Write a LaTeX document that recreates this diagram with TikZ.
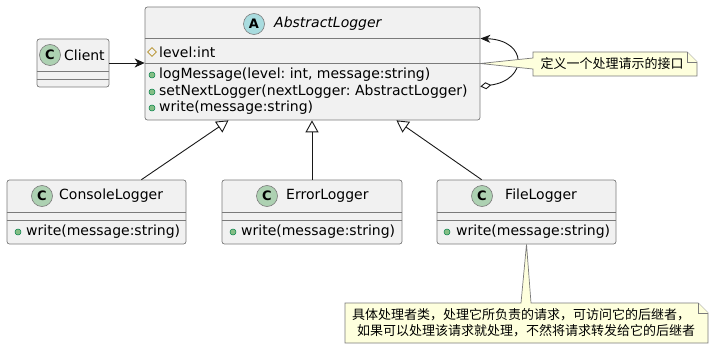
\documentclass[tikz,border=0pt]{standalone}
\usepackage{fontspec}
\setmainfont{DejaVu Sans}
\newfontfamily\cjk{Noto Sans CJK SC}
\usetikzlibrary{arrows.meta,positioning,shapes.geometric,calc}
\frenchspacing

\definecolor{classbg}{HTML}{F1F1F1}
\definecolor{classline}{HTML}{181818}
\definecolor{boxline}{HTML}{7A7A7A}
\definecolor{cgreen}{HTML}{ADD1B2}
\definecolor{acyan}{HTML}{A9DCDF}
\definecolor{notebg}{HTML}{FEFFDD}
\definecolor{pubfill}{HTML}{84BE84}
\definecolor{publine}{HTML}{038048}
\definecolor{protline}{HTML}{B38D22}

\begin{document}
\begin{tikzpicture}[x=1pt, y=-1pt, >=Stealth,
    classbox/.style={draw=boxline, fill=classbg, rounded corners=2.5pt, line width=0.7pt, inner sep=0pt},
    badge/.style={circle, draw=boxline, line width=0.6pt, minimum size=21pt, inner sep=0pt, font=\bfseries\fontsize{13}{13}\selectfont},
    member/.style={anchor=west, inner sep=0pt, font=\fontsize{14}{16}\selectfont},
    pub/.style={circle, draw=publine, fill=pubfill, minimum size=6pt, inner sep=0pt, line width=0.5pt},
    prot/.style={diamond, draw=protline, minimum size=9pt, inner sep=0pt, line width=0.7pt},
    sep/.style={draw=boxline, line width=0.7pt},
    link/.style={classline, line width=0.9pt},
    inherit/.style={-{Triangle[open, length=12pt, width=13pt]}, link},
    notebox/.style={draw=boxline, fill=notebg, line width=0.7pt},
    notetext/.style={font=\cjk\fontsize{13}{16}\selectfont, inner sep=0pt, align=left}]
    \useasboundingbox (0,0) rectangle (714,350);

    % 类框
    \node[classbox, minimum width=72pt, minimum height=48pt] (client) at (73,63) {};
    \node[classbox, minimum width=335pt, minimum height=113pt] (abs) at (312.5,63.5) {};
    \node[classbox, minimum width=179pt, minimum height=64pt] (console) at (96.5,212) {};
    \node[classbox, minimum width=180pt, minimum height=64pt] (error) at (312,212) {};
    \node[classbox, minimum width=179pt, minimum height=64pt] (file) at (526.5,212) {};

    % 分隔线
    \draw[sep] (client.west |- 0,71) -- (client.east |- 0,71);
    \draw[sep] (client.west |- 0,79) -- (client.east |- 0,79);
    \draw[sep] (abs.west |- 0,38) -- (abs.east |- 0,38);
    \draw[sep] (abs.west |- 0,63) -- (abs.east |- 0,63);
    \foreach \c in {console, error, file} {
        \draw[sep] (\c.west |- 0,212) -- (\c.east |- 0,212);
        \draw[sep] (\c.west |- 0,220) -- (\c.east |- 0,220);
    }

    % Client
    \node[badge, fill=cgreen] (clientC) at (50,55) {C};
    \node[member] (clientname) at (64,55) {Client};

    % AbstractLogger
    \node[badge, fill=acyan] (absA) at (254,24) {A};
    \node[member] (absname) at (274,24) {\itshape AbstractLogger};
    \node[prot] (levelicon) at (152,52) {};
    \node[member] (level) at (159,52) {level:int};
    \node[pub] (logicon) at (152,75) {};
    \node[member] (logmsg) at (159,75) {logMessage(level: int, message:string)};
    \node[pub] (nexticon) at (152,92) {};
    \node[member] (setnext) at (159,92) {setNextLogger(nextLogger: AbstractLogger)};
    \node[pub] (writeicon) at (152,108) {};
    \node[member] (abswrite) at (159,108) {write(message:string)};

    % 具体处理者
    \node[badge, fill=cgreen] (consoleC) at (42,196) {C};
    \node[member] (consolename) at (59,196) {ConsoleLogger};
    \node[pub] (consoleicon) at (18,232) {};
    \node[member] (consolewrite) at (26,232) {write(message:string)};

    \node[badge, fill=cgreen] (errorC) at (267,196) {C};
    \node[member] (errorname) at (286,196) {ErrorLogger};
    \node[pub] (erroricon) at (233,232) {};
    \node[member] (errorwrite) at (241,232) {write(message:string)};

    \node[badge, fill=cgreen] (fileC) at (482,196) {C};
    \node[member] (filename) at (505,196) {FileLogger};
    \node[pub] (fileicon) at (447,232) {};
    \node[member] (filewrite) at (456,232) {write(message:string)};

    % 关联与继承
    \draw[-{Stealth[length=10pt, width=9pt, inset=3pt]}, link] (client.east) -- (client.east -| abs.west);
    \draw[{Diamond[open, length=11pt, width=7pt]}-{Stealth[length=10pt, width=8pt, inset=3pt]}, link]
        ($(abs.east)+(0,23)$) .. controls (528,80) and (528,40) .. ($(abs.east)+(0,-25)$);
    \draw[inherit] ($(console.north)!0.5!(console.north east)$) -- ($(abs.south west)!0.5!(abs.south)$);
    \draw[inherit] (error.north) -- (error.north |- abs.south);
    \draw[inherit] ($(file.north)!0.5!(file.north west)$) -- ($(abs.south)!0.5!(abs.south east)$);

    % 注释
    \draw[notebox] (533,52) -- (687,52) -- (697,62) -- (697,76) -- (533,76) -- (533,69)
        -- (abs.east) -- (533,58) -- cycle;
    \draw[notebox] (687,52) -- (687,62) -- (697,62);
    \node[notetext] (note1) at (612,64) {定义一个处理请示的接口};

    \draw[notebox] (345,303) -- (521,303) -- (file.south) -- (531,303) -- (698,303) -- (708,313)
        -- (708,343) -- (345,343) -- cycle;
    \draw[notebox] (698,303) -- (698,313) -- (708,313);
    \node[notetext, anchor=west] (note2) at (352,323) {具体处理者类，处理它所负责的请求，可访问它的后继者，\\\hspace*{5pt}如果可以处理该请求就处理，不然将请求转发给它的后继者};
\end{tikzpicture}
\end{document}
